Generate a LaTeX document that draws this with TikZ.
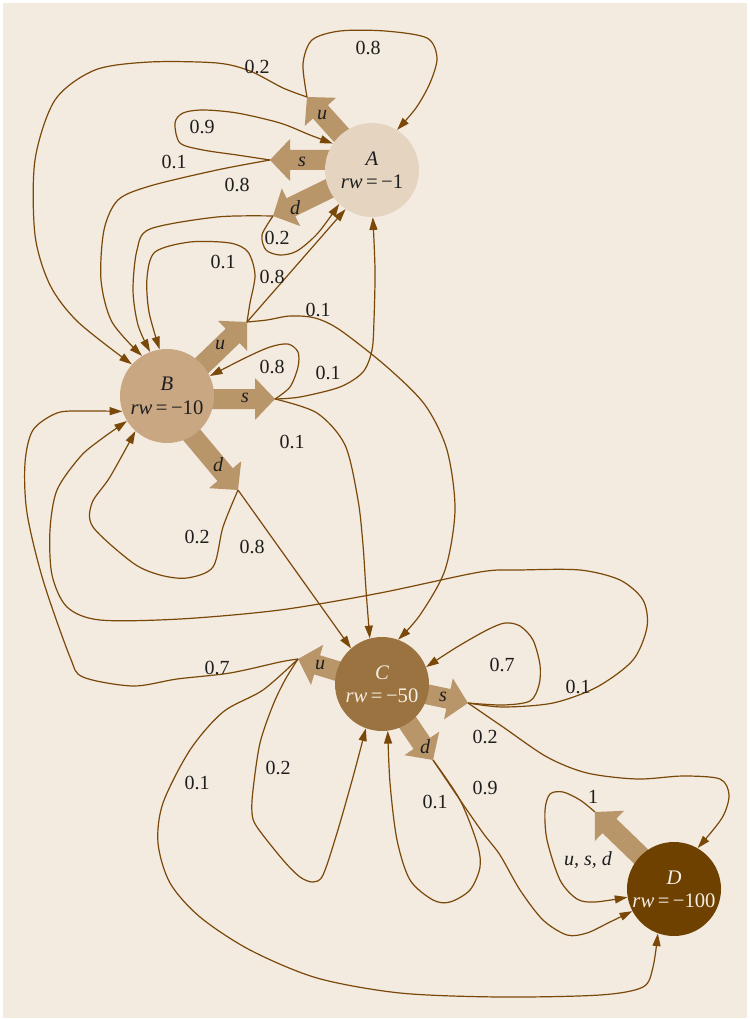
\documentclass[tikz,border=0pt]{standalone}
\usepackage{fontspec}
\setmainfont{Liberation Serif}
\usetikzlibrary{arrows.meta}
\definecolor{bgc}{RGB}{243,234,224}
\definecolor{edgec}{RGB}{122,72,8}
\definecolor{actc}{RGB}{185,149,106}
\definecolor{fa}{RGB}{229,213,192}
\definecolor{fb}{RGB}{201,167,131}
\definecolor{fc}{RGB}{155,115,64}
\definecolor{fd}{RGB}{110,65,0}
\definecolor{lightt}{RGB}{245,238,228}
\definecolor{txt}{RGB}{30,30,30}
\newcommand{\actarrow}[4]{%
  \begin{scope}[shift={#2},rotate=#3]
    \fill[actc] (0,0) -- (-20,21) -- (-20,10) -- (-#4,10) -- (-#4,-10) -- (-20,-10) -- (-20,-21) -- cycle;
    \coordinate (#1) at (0,0);
  \end{scope}}
\tikzset{
  state/.style={circle, inner sep=0pt, minimum size=70.5pt, align=center, font=\fontsize{15.5}{17.5}\selectfont},
  trans/.style={draw=edgec, line width=0.9pt, -{Triangle[length=9.5pt,width=6pt]}},
  lbl/.style={font=\fontsize{15}{17}\selectfont, text=txt, inner sep=0pt},
  albl/.style={font=\fontsize{15}{17}\selectfont\itshape, text=txt, inner sep=0pt}
}
\begin{document}
\begin{tikzpicture}[x=0.75pt,y=-0.75pt]
\useasboundingbox (0,0) rectangle (749,1019);
\fill[white] (0,0) rectangle (749,1019);
\fill[bgc] (3,3) rectangle (747,1018);

% action arrows
\actarrow{Aut}{(307,97)}{132}{88}
\actarrow{Ast}{(270,160)}{180}{92}
\actarrow{Adt}{(273,216)}{206}{96}
\actarrow{But}{(247,322)}{44}{100}
\actarrow{Bst}{(275,399)}{0}{98}
\actarrow{Bdt}{(238,490)}{-50}{108}
\actarrow{Cut}{(298,659)}{163}{78}
\actarrow{Cst}{(468,703)}{-12}{78}
\actarrow{Cdt}{(433,760)}{-56}{84}
\actarrow{Dt}{(595,812)}{136}{100}

% states
\node[state, fill=fa, text=txt] (A) at (372,170) {\textit{A}\\\textit{rw}\,=\,−1};
\node[state, fill=fb, text=txt] (B) at (167,396) {\textit{B}\\\textit{rw}\,=\,−10};
\node[state, fill=fc, text=lightt] (C) at (382,684) {\textit{C}\\\textit{rw}\,=\,−50};
\node[state, fill=fd, text=lightt] (D) at (674,889) {\textit{D}\\\textit{rw}\,=\,−100};

% transitions from A
\draw[trans] plot[smooth] coordinates {(Aut) (303,64) (312,40) (340,31) (385,31) (427,38) (437,58) (430,83) (416,108) (A.58)};
\draw[trans] plot[smooth] coordinates {(Aut) (283,88) (250,71) (217,63) (150,62) (95,70) (55,100) (35,160) (35,235) (50,285) (78,322) (B.138)};
\draw[trans] plot[smooth] coordinates {(Ast) (237,155) (203,150) (180,143) (175,123) (183,113) (203,110) (237,113) (280,123) (310,135) (A.146)};
\draw[trans] plot[smooth] coordinates {(Ast) (217,170) (150,186) (118,200) (104,230) (101,280) (112,322) (B.122)};
\draw[trans] plot[smooth] coordinates {(Adt) (262,235) (266,250) (280,255) (297,251) (318,233) (A.226)};
\draw[trans] plot[smooth] coordinates {(Adt) (217,217) (150,229) (137,250) (133,290) (138,325) (B.111)};

% transitions from B
\draw[trans] (But) -- (A.236);
\draw[trans] plot[smooth] coordinates {(But) (250,303) (255,275) (248,252) (230,243) (190,242) (155,252) (147,278) (149,312) (B.99)};
\draw[trans] plot[smooth] coordinates {(But) (267,320) (290,316) (315,318) (340,330) (387,367) (425,405) (447,450) (455,510) (445,570) (420,615) (C.70)};
\draw[trans] plot[smooth] coordinates {(Bst) (290,387) (298,367) (298,352) (288,344) (270,347) (245,358) (B.25)};
\draw[trans] plot[smooth] coordinates {(Bst) (300,397) (340,387) (363,372) (372,350) (374,320) (375,270) (A.271)};
\draw[trans] plot[smooth] coordinates {(Bst) (317,413) (345,445) (358,500) (363,545) (366,590) (C.105)};
\draw[trans] plot[smooth] coordinates {(Bdt) (223,527) (213,567) (187,578) (160,575) (133,563) (93,527) (92,503) (110,477) (B.228)};
\draw[trans] (Bdt) -- (C.131);

% transitions from C
\draw[trans] plot[smooth] coordinates {(Cut) (280,662) (230,673) (177,679) (133,686) (83,677) (70,657) (43,580) (27,513) (25,463) (33,430) (57,413) (83,411) (B.199)};
\draw[trans] plot[smooth] coordinates {(Cst) (503,707) (553,703) (597,687) (633,660) (647,627) (643,600) (620,580) (580,570) (520,570) (480,572) (380,593) (280,610) (180,619) (100,620) (67,607) (52,575) (50,530) (57,490) (80,457) (100,440) (B.212)};
\draw[trans] plot[smooth] coordinates {(Cst) (503,705) (530,701) (539,685) (540,665) (533,640) (520,626) (505,623) (487,630) (457,647) (C.21)};
\draw[trans] plot[smooth] coordinates {(Cst) (503,727) (547,757) (587,773) (637,779) (683,776) (720,779) (729,795) (722,818) (D.60)};
\draw[trans] plot[smooth] coordinates {(Cut) (285,680) (273,705) (260,743) (253,790) (252,813) (257,827) (283,860) (300,877) (313,882) (323,875) (337,833) (353,777) (C.250)};
\draw[trans] plot[smooth] coordinates {(Cut) (263,690) (223,712) (190,750) (163,803) (158,843) (170,883) (200,917) (250,950) (317,978) (400,993) (500,997) (600,995) (643,987) (653,967) (D.250)};
\draw[trans] plot[smooth] coordinates {(Cdt) (460,800) (477,843) (480,867) (470,890) (450,902) (433,900) (410,880) (397,840) (390,783) (C.277)};
\draw[trans] plot[smooth] coordinates {(Cdt) (458,797) (483,833) (500,855) (520,890) (543,920) (567,935) (587,933) (610,922) (D.208)};

% transition from D
\draw[trans] plot[smooth] coordinates {(Dt) (580,800) (563,792) (550,794) (545,810) (547,840) (560,880) (577,899) (595,902) (D.190)};

% action labels
\node[albl] (lau) at (322,115) {u};
\node[albl] (las) at (302,162) {s};
\node[albl] (lad) at (295,208) {d};
\node[albl] (lbu) at (220,345) {u};
\node[albl] (lbs) at (245,398) {s};
\node[albl] (lbd) at (218,465) {d};
\node[albl] (lcu) at (320,665) {u};
\node[albl] (lcs) at (443,697) {s};
\node[albl] (lcd) at (425,747) {d};
\node[albl] (ldx) at (588,860) {u,\hspace{0.25em}s,\hspace{0.25em}d};

% probability labels
\node[lbl] (p1) at (368,48) {0.8};
\node[lbl] (p2) at (257,67) {0.2};
\node[lbl] (p3) at (202,127) {0.9};
\node[lbl] (p4) at (174,162) {0.1};
\node[lbl] (p5) at (237,185) {0.8};
\node[lbl] (p6) at (277,238) {0.2};
\node[lbl] (p7) at (223,262) {0.1};
\node[lbl] (p8) at (272,277) {0.8};
\node[lbl] (p9) at (318,310) {0.1};
\node[lbl] (p10) at (272,367) {0.8};
\node[lbl] (p11) at (328,373) {0.1};
\node[lbl] (p12) at (292,442) {0.1};
\node[lbl] (p13) at (197,537) {0.2};
\node[lbl] (p14) at (252,547) {0.8};
\node[lbl] (p15) at (217,668) {0.7};
\node[lbl] (p16) at (502,665) {0.7};
\node[lbl] (p17) at (578,687) {0.1};
\node[lbl] (p18) at (485,737) {0.2};
\node[lbl] (p19) at (278,768) {0.2};
\node[lbl] (p20) at (197,783) {0.1};
\node[lbl] (p21) at (435,802) {0.1};
\node[lbl] (p22) at (485,788) {0.9};
\node[lbl] (p23) at (593,797) {1};
\end{tikzpicture}
\end{document}
